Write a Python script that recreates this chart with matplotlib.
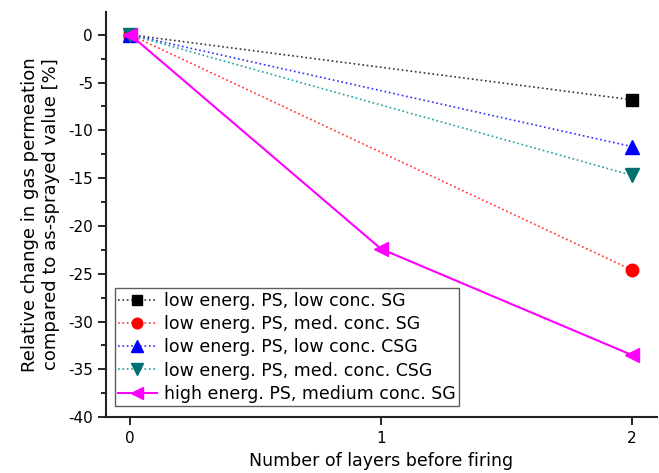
import matplotlib.pyplot as plt
from matplotlib.ticker import MultipleLocator

plt.rcParams['axes.unicode_minus'] = False

# layers before firing
layers = [0, 1, 2]
layers_short = [0, 2]

low_low_sg = [0, -6.8]
low_med_sg = [0, -24.6]
low_low_csg = [0, -11.7]
low_med_csg = [0, -14.7]
high_med_sg = [0, -22.4, -33.5]

labels = ['low energ. PS, low conc. SG',
          'low energ. PS, med. conc. SG',
          'low energ. PS, low conc. CSG',
          'low energ. PS, med. conc. CSG',
          'high energ. PS, medium conc. SG']

fig = plt.figure(figsize=(6.59, 4.73), dpi=100)
ax = fig.add_axes([0.161, 0.118, 0.836, 0.857])

ax.plot(layers_short, low_low_sg, ':', color='#333333', lw=1.2, marker='s', ms=8,
        mfc='black', mec='black', label=labels[0])
ax.plot(layers_short, low_med_sg, ':', color='#ff3030', lw=1.2, marker='o', ms=9,
        mfc='red', mec='red', label=labels[1])
ax.plot(layers_short, low_low_csg, ':', color='#3030ff', lw=1.2, marker='^', ms=10,
        mfc='blue', mec='blue', label=labels[2])
ax.plot(layers_short, low_med_csg, ':', color='#20a0a0', lw=1.2, marker='v', ms=10,
        mfc='#007070', mec='#007070', label=labels[3])
ax.plot(layers, high_med_sg, '-', color='magenta', lw=1.5, marker='<', ms=10,
        mfc='magenta', mec='magenta', label=labels[4])

ax.set_xlim(-0.096, 2.1)
ax.set_ylim(-40, 2.4)
ax.set_xticks([0, 1, 2])
ax.yaxis.set_major_locator(MultipleLocator(5))
ax.yaxis.set_minor_locator(MultipleLocator(2.5))
ax.tick_params(axis='both', direction='out', length=6, width=1.2, labelsize=11)
ax.tick_params(axis='y', which='minor', direction='out', length=3.5, width=1.2)
ax.tick_params(axis='x', pad=4)

for s in ['top', 'right']:
    ax.spines[s].set_visible(False)
for s in ['left', 'bottom']:
    ax.spines[s].set_linewidth(1.5)
    ax.spines[s].set_color('#222222')

ax.set_ylabel('Relative change in gas permeation\ncompared to as-sprayed value [%]',
              fontsize=13, labelpad=6)
ax.set_xlabel('Number of layers before firing', fontsize=12.5, labelpad=4)

leg = ax.legend(loc='lower left', bbox_to_anchor=(0.016, 0.027), fontsize=12.5,
                frameon=True, fancybox=False, edgecolor='#333333', handlelength=2.2,
                handletextpad=0.4, borderpad=0.2, labelspacing=0.3, borderaxespad=0,
                markerscale=0.85)
leg.get_frame().set_linewidth(1.0)

fig.savefig('out.png', dpi=100)
